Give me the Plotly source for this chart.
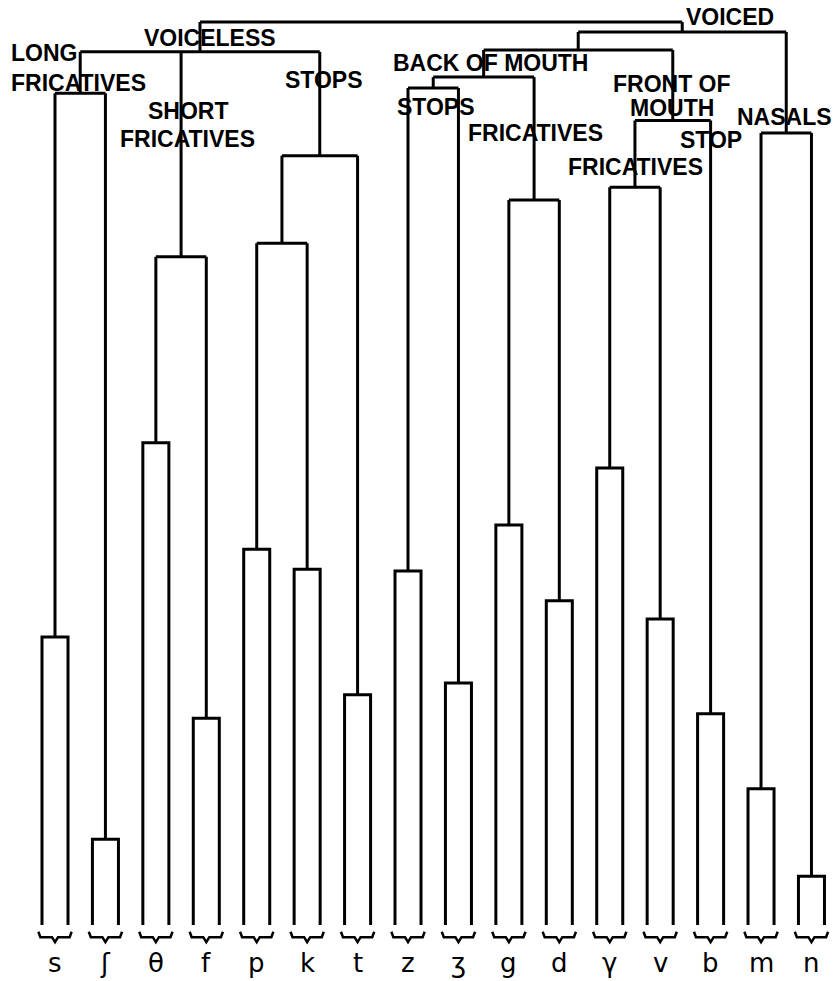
import plotly.graph_objects as go

# ---- data ----
leaves = ["s", "ʃ", "θ", "f", "p", "k", "t", "z", "ʒ", "g", "d", "γ", "v", "b", "m", "n"]
leaf_heights = [31.9, 9.5, 53.4, 22.9, 41.6, 39.4, 25.5, 39.2, 26.8, 44.3, 35.9, 50.6, 33.9, 23.4, 15.1, 5.4]

# merges: children are leaf names or "M<k>" for earlier merges
merge_children = [
    ["s", "ʃ"],              # M0 long fricatives
    ["θ", "f"],              # M1 short fricatives
    ["p", "k"],              # M2
    ["M2", "t"],             # M3 stops
    ["M0", "M1", "M3"],      # M4 voiceless
    ["z", "ʒ"],              # M5
    ["g", "d"],              # M6
    ["M5", "M6"],            # M7 back of mouth
    ["γ", "v"],              # M8
    ["M8", "b"],             # M9 front of mouth
    ["M7", "M9"],            # M10
    ["m", "n"],              # M11 nasals
    ["M10", "M11"],          # M12 voiced
    ["M4", "M12"],           # M13 root
]
merge_heights = [92.1, 74.0, 75.5, 85.2, 96.7, 92.7, 80.3, 93.9, 81.7, 89.1, 96.9, 87.7, 98.9, 100.0]

group_labels = ["VOICELESS", "LONG", "FRICATIVES", "SHORT", "FRICATIVES", "STOPS",
                "BACK OF MOUTH", "STOPS", "FRICATIVES", "FRONT OF", "MOUTH", "STOP",
                "FRICATIVES", "NASALS", "VOICED"]

# ---- layout of labels (positions in data units) ----
label_pos = [
    (3.07, 98.2, "center"),
    (-0.89, 96.6, "left"),
    (-0.89, 93.3, "left"),
    (2.64, 90.2, "center"),
    (2.62, 87.1, "center"),
    (5.33, 93.6, "center"),
    (8.63, 95.5, "center"),
    (7.55, 90.6, "center"),
    (9.52, 87.7, "center"),
    (12.23, 93.1, "center"),
    (12.23, 90.5, "center"),
    (13.01, 86.9, "center"),
    (11.52, 83.9, "center"),
    (14.46, 89.5, "center"),
    (13.38, 100.55, "center"),
]

HW = 0.258  # half width of leaf bracket boxes

pos = {}
top = {}
for i, (name, h) in enumerate(zip(leaves, leaf_heights)):
    pos[name] = i
    top[name] = h

xs, ys = [], []
# leaf boxes
for i, h in enumerate(leaf_heights):
    xs += [i - HW, i - HW, i + HW, i + HW, None]
    ys += [0, h, h, 0, None]

# merges
for k, (children, h) in enumerate(zip(merge_children, merge_heights)):
    cx = [pos[c] for c in children]
    for c in children:
        xs += [pos[c], pos[c], None]
        ys += [top[c], h, None]
    xs += [min(cx), max(cx), None]
    ys += [h, h, None]
    key = "M%d" % k
    pos[key] = (min(cx) + max(cx)) / 2
    top[key] = h

fig = go.Figure()
fig.add_trace(go.Scatter(x=xs, y=ys, mode="lines",
                         line=dict(color="black", width=3),
                         hoverinfo="skip", showlegend=False))

# braces under leaves
bx, by = [], []
for i in range(len(leaves)):
    bx += [i - 0.33, i - 0.29, i - 0.06, i, i + 0.06, i + 0.29, i + 0.33, None]
    by += [-0.75, -1.35, -1.35, -1.9, -1.35, -1.35, -0.75, None]
fig.add_trace(go.Scatter(x=bx, y=by, mode="lines",
                         line=dict(color="black", width=2.5),
                         hoverinfo="skip", showlegend=False))

annotations = []
for i, name in enumerate(leaves):
    annotations.append(dict(x=i, y=-4.2, text=name, showarrow=False,
                            xanchor="center", yanchor="middle",
                            font=dict(family="DejaVu Sans", size=26, color="black")))
for text, (x, y, anc) in zip(group_labels, label_pos):
    annotations.append(dict(x=x, y=y, text="<b>%s</b>" % text, showarrow=False,
                            xanchor=anc, yanchor="middle", borderpad=0,
                            font=dict(family="Liberation Sans", size=23, color="black")))

fig.update_layout(
    width=834, height=981,
    margin=dict(l=0, r=0, t=0, b=0),
    paper_bgcolor="white", plot_bgcolor="white",
    xaxis=dict(range=[-1.0906, 15.447], visible=False, fixedrange=True),
    yaxis=dict(range=[-6.20, 102.44], visible=False, fixedrange=True),
    annotations=annotations,
)

fig.write_html("out.html", config={"displayModeBar": False},
               post_script="document.body.style.margin='0';document.body.style.overflow='hidden';")
